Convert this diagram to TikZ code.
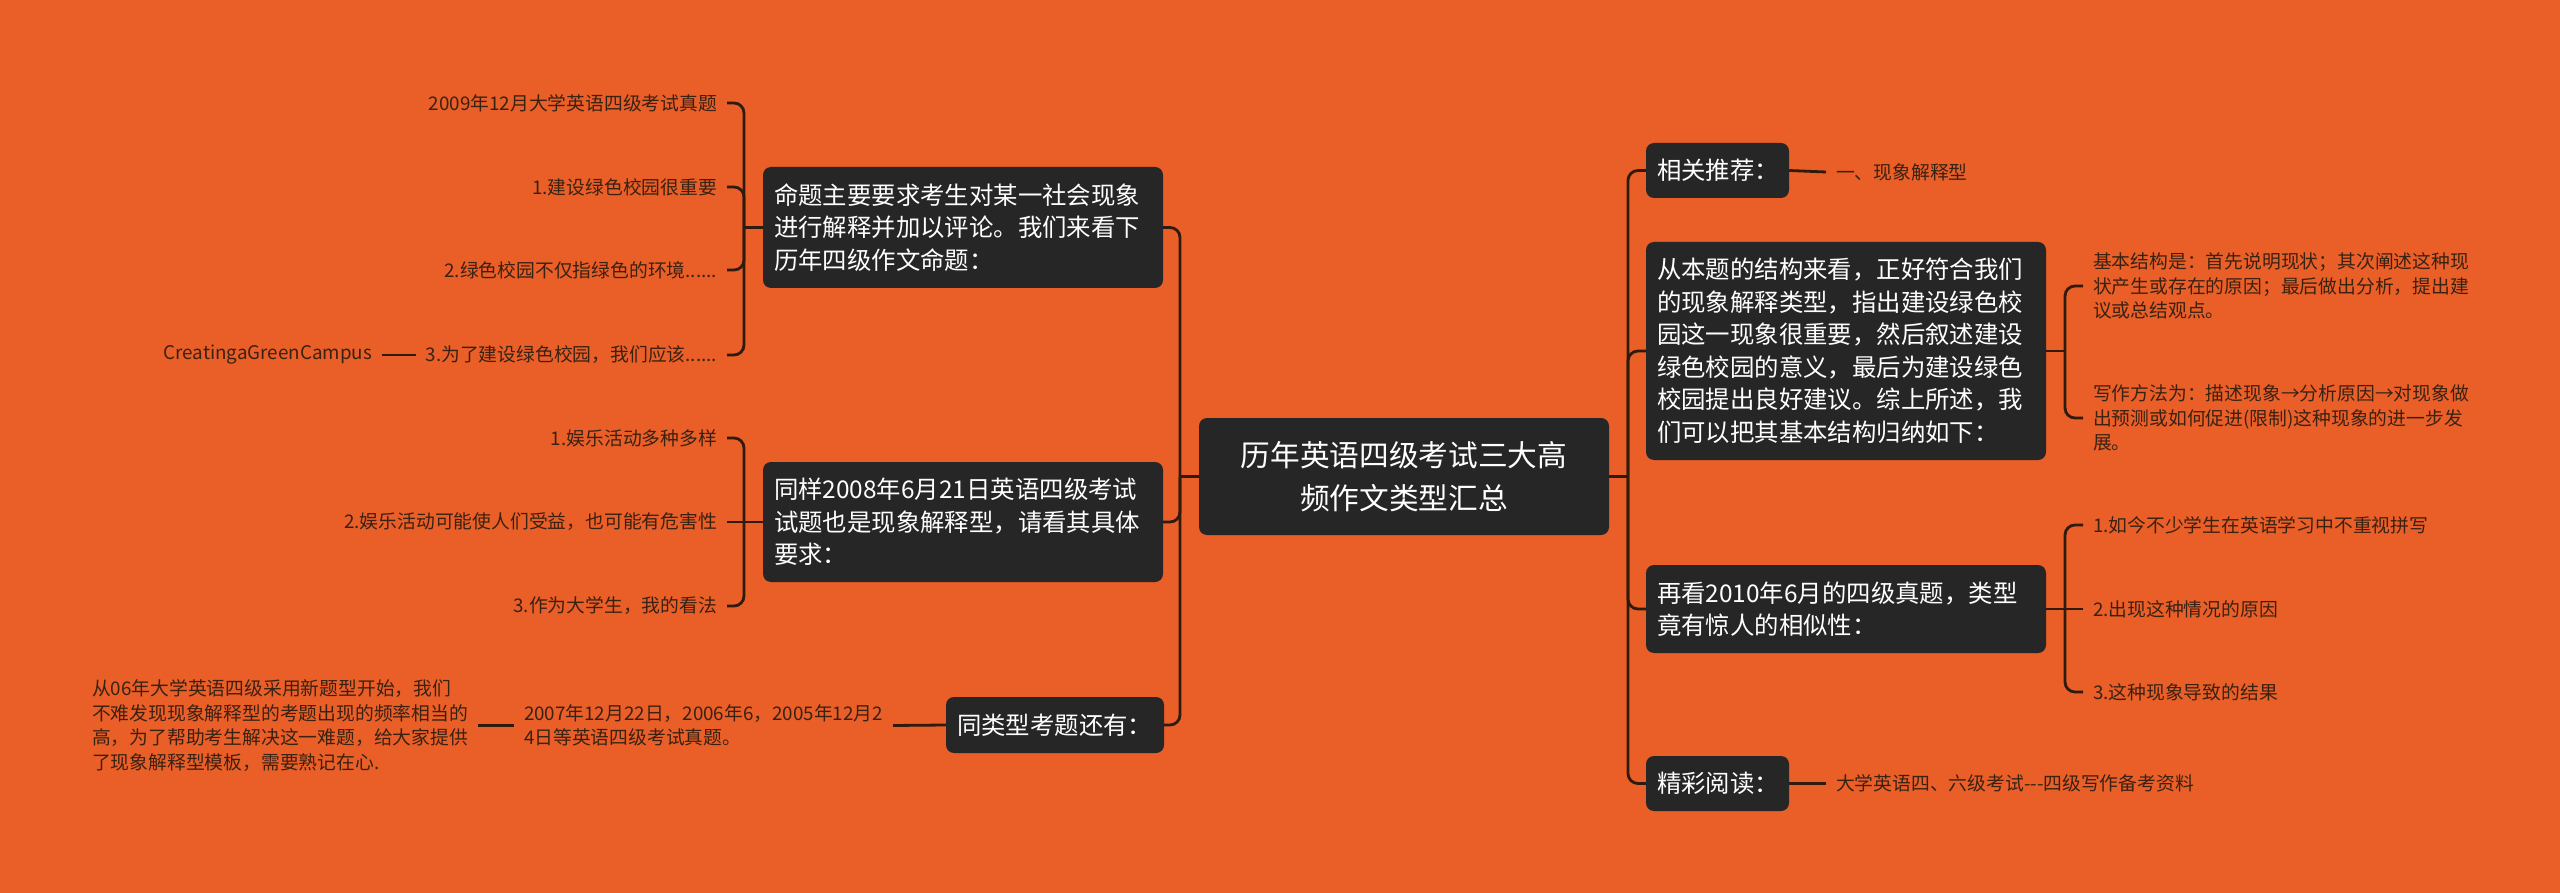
\documentclass[tikz,border=0pt]{standalone}
\usepackage{fontspec}
\setmainfont{Noto Sans CJK SC}[Ligatures=TeXOff]
\definecolor{bg}{HTML}{EA5E28}
\definecolor{boxc}{HTML}{262626}
\definecolor{linec}{HTML}{2F1B0E}
\definecolor{leafc}{HTML}{3A2213}
\tikzset{
  mbox/.style={fill=boxc, rounded corners=8pt, text=white, inner xsep=11pt, inner ysep=0pt,
    font=\fontsize{24.4}{32.5}\selectfont, align=left},
  rootbox/.style={fill=boxc, rounded corners=8pt, text=white, inner sep=0pt,
    font=\fontsize{29.7}{43}\selectfont, align=center},
  leaf/.style={text=leafc, inner sep=0pt, outer xsep=10pt, outer ysep=0pt,
    font=\fontsize{18.8}{24.4}\selectfont, align=left},
  conn/.style={draw=linec, line width=2.8pt, rounded corners=10pt}
}
\begin{document}
\begin{tikzpicture}[x=1pt,y=-1pt]
\useasboundingbox (0,0) rectangle (2560,893);
\fill[bg] (0,0) rectangle (2560,893);

% root
\node[rootbox, minimum width=410pt, minimum height=117pt, text width=390pt] (C) at (1404,476.5)
  {历年英语四级考试三大高\\频作文类型汇总};

% left main boxes
\node[mbox, minimum width=400pt, minimum height=121pt, text width=378pt] (L1) at (963,227.5)
  {命题主要要求考生对某一社会现象\\进行解释并加以评论。我们来看下\\历年四级作文命题：};
\node[mbox, minimum width=400pt, minimum height=120pt, text width=378pt] (L2) at (963,522)
  {同样2008年6月21日英语四级考试\\试题也是现象解释型，请看其具体\\要求：};
\node[mbox, minimum width=218pt, minimum height=56pt, text width=196pt] (L3) at (1055,725)
  {同类型考题还有：};

% right main boxes
\node[mbox, minimum width=143pt, minimum height=55pt, text width=121pt] (R1) at (1717.5,170.5)
  {相关推荐：};
\node[mbox, minimum width=400pt, minimum height=218pt, text width=378pt] (R2) at (1846,351)
  {从本题的结构来看，正好符合我们\\的现象解释类型，指出建设绿色校\\园这一现象很重要，然后叙述建设\\绿色校园的意义，最后为建设绿色\\校园提出良好建议。综上所述，我\\们可以把其基本结构归纳如下：};
\node[mbox, minimum width=400pt, minimum height=88pt, text width=378pt] (R3) at (1846,609)
  {再看2010年6月的四级真题，类型\\竟有惊人的相似性：};
\node[mbox, minimum width=143pt, minimum height=55pt, text width=121pt] (R4) at (1717.5,783.5)
  {精彩阅读：};

% left leaves
\node[leaf, anchor=east] (a1) at (727,103) {2009年12月大学英语四级考试真题};
\node[leaf, anchor=east] (a2) at (727,187) {1.建设绿色校园很重要};
\node[leaf, anchor=east] (a3) at (727,270) {2.绿色校园不仅指绿色的环境......};
\node[leaf, anchor=east] (a4) at (727,355) {3.为了建设绿色校园，我们应该......};
\node[leaf, anchor=east] (a5) at (382,355) {CreatingaGreenCampus};
\node[leaf, anchor=east] (b1) at (727,438) {1.娱乐活动多种多样};
\node[leaf, anchor=east] (b2) at (727,522) {2.娱乐活动可能使人们受益，也可能有危害性};
\node[leaf, anchor=east] (b3) at (727,606) {3.作为大学生，我的看法};
\node[leaf, anchor=west] (c1) at (514,725.5) {2007年12月22日，2006年6，2005年12月2\\4日等英语四级考试真题。};
\node[leaf, anchor=east] (c2) at (478,725.5) {从06年大学英语四级采用新题型开始，我们\\不难发现现象解释型的考题出现的频率相当的\\高，为了帮助考生解决这一难题，给大家提供\\了现象解释型模板，需要熟记在心.};

% right leaves
\node[leaf, anchor=west] (r1) at (1826,172) {一、现象解释型};
\node[leaf, anchor=west] (r21) at (2083,286) {基本结构是：首先说明现状；其次阐述这种现\\状产生或存在的原因；最后做出分析，提出建\\议或总结观点。};
\node[leaf, anchor=west] (r22) at (2083,418) {写作方法为：描述现象→分析原因→对现象做\\出预测或如何促进(限制)这种现象的进一步发\\展。};
\node[leaf, anchor=west] (r31) at (2083,525) {1.如今不少学生在英语学习中不重视拼写};
\node[leaf, anchor=west] (r32) at (2083,609) {2.出现这种情况的原因};
\node[leaf, anchor=west] (r33) at (2083,692) {3.这种现象导致的结果};
\node[leaf, anchor=west] (r4) at (1826,783.5) {大学英语四、六级考试---四级写作备考资料};

% junctions
\coordinate (jL) at (1180,476.5);
\coordinate (jR) at (1628,476.5);
\coordinate (jA) at (744,227.5);
\coordinate (jB) at (744,522);
\coordinate (jRB) at (2065,351);
\coordinate (jRC) at (2065,609);

% trunks
\draw[conn] (C.west) -- (jL);
\draw[conn] (jL) |- (L1.east);
\draw[conn] (jL) |- (L2.east);
\draw[conn] (jL) |- (L3.east);
\draw[conn] (C.east) -- (jR);
\draw[conn] (jR) |- (R1.west);
\draw[conn] (jR) |- (R2.west);
\draw[conn] (jR) |- (R3.west);
\draw[conn] (jR) |- (R4.west);

% left leaf brackets
\draw[conn] (L1.west) -- (jA);
\draw[conn] (jA) |- (a1.east);
\draw[conn] (jA) |- (a2.east);
\draw[conn] (jA) |- (a3.east);
\draw[conn] (jA) |- (a4.east);
\draw[conn] (a4.west) -- (a5.east);
\draw[conn] (L2.west) -- (jB);
\draw[conn] (jB) |- (b1.east);
\draw[conn] (jB) -- (b2.east);
\draw[conn] (jB) |- (b3.east);
\draw[conn] (L3.west) -- (c1.east);
\draw[conn] (c1.west) -- (c2.east);

% right leaf brackets
\draw[conn] (R1.east) -- (r1.west);
\draw[conn] (R2.east) -- (jRB);
\draw[conn] (jRB) |- (r21.west);
\draw[conn] (jRB) |- (r22.west);
\draw[conn] (R3.east) -- (jRC);
\draw[conn] (jRC) |- (r31.west);
\draw[conn] (jRC) -- (r32.west);
\draw[conn] (jRC) |- (r33.west);
\draw[conn] (R4.east) -- (r4.west);
\end{tikzpicture}
\end{document}
